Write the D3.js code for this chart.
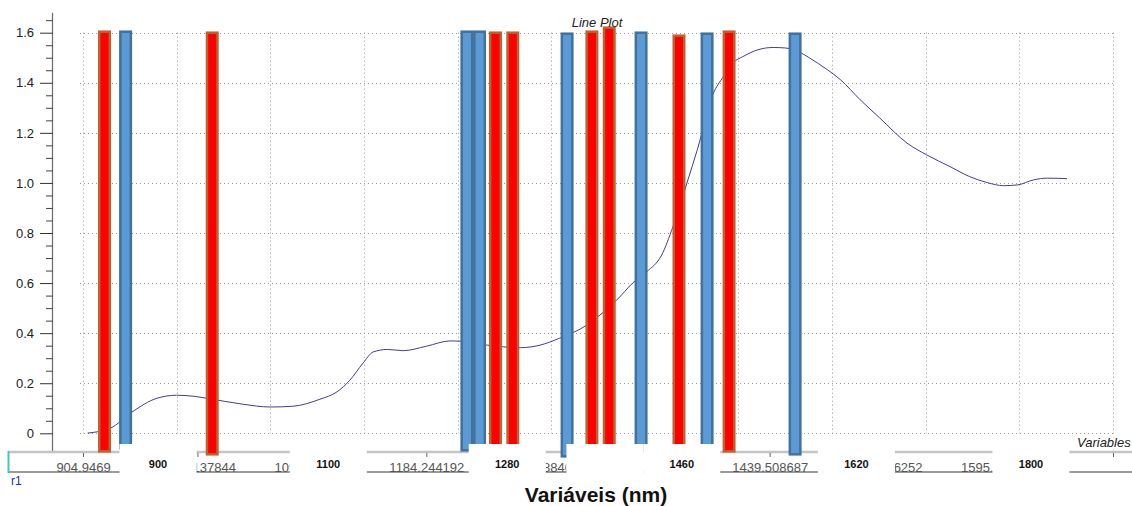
<!DOCTYPE html>
<html>
<head>
<meta charset="utf-8">
<script src="https://cdn.jsdelivr.net/npm/d3@7"></script>
<style>
  html, body { margin: 0; padding: 0; background: #fff; }
  svg { display: block; font-family: Arial, 'Liberation Sans', sans-serif; }
</style>
</head>
<body>
<div id="chart"></div>
<script>
// spectrum (x = wavelength-like position, y = value)
const lineX = [805, 829, 852, 879, 900, 918, 932, 971, 1000, 1024, 1053, 1071, 1085, 1099, 1110, 1125, 1142, 1167, 1192, 1203,
               1232, 1267, 1288, 1309, 1338, 1352, 1370, 1387, 1402, 1418, 1430, 1445, 1456, 1473, 1484, 1494, 1505, 1521, 1537, 1550,
               1566, 1576, 1595, 1609, 1630, 1651, 1680, 1701, 1726, 1747, 1766, 1783, 1798, 1815, 1830, 1851];
const lineY = [0.001, 0.02, 0.084, 0.14, 0.152, 0.148, 0.14, 0.116, 0.105, 0.108, 0.136, 0.165, 0.212, 0.28, 0.325, 0.335, 0.33, 0.348, 0.369, 0.368,
               0.352, 0.342, 0.352, 0.38, 0.432, 0.472, 0.532, 0.6, 0.645, 0.712, 0.825, 1.0, 1.132, 1.356, 1.425, 1.479, 1.505, 1.532, 1.541, 1.539,
               1.521, 1.499, 1.452, 1.412, 1.332, 1.259, 1.159, 1.112, 1.065, 1.025, 1.001, 0.989, 0.992, 1.012, 1.019, 1.017];

// selected variables (red) and (blue)
const redPos    = [823, 938, 1240.5, 1259, 1343.5, 1362, 1436.5, 1490];
const redTop    = [1.604, 1.6, 1.6, 1.6, 1.604, 1.62, 1.588, 1.604];
const redBottom = [-0.072, -0.084, -0.07, -0.07, -0.07, -0.07, -0.07, -0.072];
const bluePos    = [845.5, 1210, 1223.5, 1317, 1396, 1466.5, 1560.5];
const blueTop    = [1.604, 1.604, 1.604, 1.596, 1.6, 1.596, 1.596];
const blueBottom = [-0.06, -0.068, -0.07, -0.092, -0.07, -0.07, -0.084];

// y axis ticks
const yMajor = [0, 0.2, 0.4, 0.6, 0.8, 1.0, 1.2, 1.4, 1.6];
const yMinor = d3.range(0.05, 1.66, 0.05).filter(v => Math.abs(v * 5 - Math.round(v * 5)) > 1e-6);
const xGrid = d3.range(800, 1901, 100);

// variable strip labels (index axis)
const stripLabels = ['904.9469', '1001.137844', '1094.106345', '1184.244192', '1269.388406', '',
                     '1439.508687', '1517.706252', '1595.338912', ''];
// overlaid bold labels (slot positions)
const boldLabels = ['900', '1100', '1280', '', '1460', '1620', '1800'];
const boldSlots  = [0, 0.975, 2, 2.56, 3, 4, 5];

const width = 1132, height = 506;
const font = "Arial, 'Liberation Sans', sans-serif";

const svg = d3.select('#chart').append('svg')
  .attr('width', width)
  .attr('height', height);

const x = d3.scaleLinear().domain([800, 1900]).range([83, 1113]);
const y = d3.scaleLinear().domain([0, 1.6]).range([433.3, 32.7]);
const slot = d3.scaleLinear().domain([0, 5]).range([158, 1031]);
const patchW = 77;
const patches = boldSlots.map(s => [slot(s) - patchW / 2, slot(s) + patchW / 2]).sort((a, b) => a[0] - b[0]);

// grid
const grid = svg.append('g').attr('stroke', '#999').attr('stroke-width', 1).attr('stroke-dasharray', '1,3');
grid.selectAll('.hg').data(yMajor).enter().append('line')
  .attr('x1', 80).attr('x2', 1115)
  .attr('y1', d => Math.round(y(d)) + 0.5).attr('y2', d => Math.round(y(d)) + 0.5);
grid.selectAll('.vg').data(xGrid).enter().append('line')
  .attr('x1', d => Math.round(x(d)) + 0.5).attr('x2', d => Math.round(x(d)) + 0.5)
  .attr('y1', y(1.6)).attr('y2', y(0));

// y axis
svg.append('line')
  .attr('x1', 52.5).attr('x2', 52.5)
  .attr('y1', y(1.68)).attr('y2', y(-0.074))
  .attr('stroke', '#6a6a6a').attr('stroke-width', 1.2);

const yAxis = svg.append('g')
  .attr('transform', 'translate(53,0)')
  .call(d3.axisLeft(y).tickValues(yMajor).tickSize(13).tickPadding(6)
    .tickFormat(d => d === 0 ? '0' : d.toFixed(1)));
yAxis.select('.domain').remove();
yAxis.selectAll('.tick line').attr('stroke', '#333');
yAxis.selectAll('.tick text').attr('font-size', 13).attr('fill', '#222').attr('font-family', font);

const yMinorAxis = svg.append('g')
  .attr('transform', 'translate(53,0)')
  .call(d3.axisLeft(y).tickValues(yMinor).tickSize(7).tickFormat(''));
yMinorAxis.select('.domain').remove();
yMinorAxis.selectAll('.tick line').attr('stroke', '#444');

// spectrum line
const line = d3.line()
  .x(d => x(d[0]))
  .y(d => y(d[1]))
  .curve(d3.curveMonotoneX);

svg.append('path')
  .datum(d3.zip(lineX, lineY))
  .attr('d', line)
  .attr('fill', 'none')
  .attr('stroke', '#40408c')
  .attr('stroke-width', 1);

// bottom variable strip
const strip = svg.append('g');
strip.append('line').attr('x1', 8).attr('x2', 1132).attr('y1', 452).attr('y2', 452)
  .attr('stroke', '#c4c4c4').attr('stroke-width', 2.5);
strip.append('line').attr('x1', 8).attr('x2', 1132).attr('y1', 472).attr('y2', 472)
  .attr('stroke', '#7a7a7a').attr('stroke-width', 1.5);
strip.append('line').attr('x1', 8.5).attr('x2', 8.5).attr('y1', 451).attr('y2', 473)
  .attr('stroke', '#3cc9c9').attr('stroke-width', 2);

// pieces of the strip not covered by the white label patches
const gaps = [];
let from = 8;
patches.forEach(p => { if (p[0] > from) gaps.push([from, p[0]]); from = Math.max(from, p[1]); });
gaps.push([from, width]);

svg.append('defs').append('clipPath').attr('id', 'stripClip')
  .selectAll('rect').data(gaps).enter().append('rect')
  .attr('x', d => d[0]).attr('y', -20)
  .attr('width', d => d[1] - d[0]).attr('height', 50);

const stripScale = d3.scaleLinear().domain([0, 9]).range([83, 1113]);
const stripAxis = strip.append('g')
  .attr('transform', 'translate(0,453)')
  .attr('clip-path', 'url(#stripClip)')
  .call(d3.axisBottom(stripScale).ticks(10).tickSize(4).tickPadding(6)
    .tickFormat(i => stripLabels[i]));
stripAxis.select('.domain').remove();
stripAxis.selectAll('.tick line').attr('stroke', '#666');
stripAxis.selectAll('.tick text').attr('font-size', 13).attr('fill', '#555').attr('font-family', font);

// keep only the characters of each label that show between the patches
stripAxis.selectAll('.tick text').each(function (i) {
  const t = d3.select(this), node = this, n = node.getNumberOfChars();
  if (!n) return;
  const x0 = stripScale(i);
  const shown = [];
  for (let j = 0; j < n; j++) {
    const e = node.getExtentOfChar(j);
    const a = x0 + e.x, b = a + e.width;
    if (gaps.some(g => b > g[0] + 0.5 && a < g[1] - 0.5)) shown.push([j, e.x]);
  }
  if (shown.length === n) return;
  if (!shown.length) { t.text(''); return; }
  const first = shown[0][0], last = shown[shown.length - 1][0];
  t.text(stripLabels[i].slice(first, last + 1))
    .attr('text-anchor', 'start')
    .attr('x', shown[0][1]);
});

// bars
function drawBars(pos, top, bottom, fill, edge) {
  const bw = 10.5;
  svg.append('g').selectAll('rect')
    .data(d3.zip(pos, top, bottom))
    .enter()
    .append('rect')
    .attr('x', d => x(d[0]) - bw / 2)
    .attr('y', d => y(d[1]))
    .attr('width', bw)
    .attr('height', d => y(d[2]) - y(d[1]))
    .style('fill', fill)
    .style('stroke', edge)
    .style('stroke-width', 2.5);
}
drawBars(redPos, redTop, redBottom, '#ff0000', '#bb6230');
drawBars(bluePos, blueTop, blueBottom, '#5b9bd5', '#41719c');

// white label patches with bold labels
const patch = svg.append('g').selectAll('g')
  .data(d3.zip(boldSlots, boldLabels))
  .enter()
  .append('g')
  .attr('transform', d => `translate(${slot(d[0])},0)`);
patch.append('rect')
  .attr('x', -patchW / 2).attr('y', 444)
  .attr('width', patchW).attr('height', 33)
  .style('fill', '#fff');
patch.append('text')
  .attr('y', 468)
  .attr('text-anchor', 'middle')
  .attr('font-size', 11)
  .attr('font-weight', 'bold')
  .attr('fill', '#111')
  .text(d => d[1]);

// texts
svg.append('text')
  .attr('x', 597).attr('y', 27)
  .attr('text-anchor', 'middle')
  .attr('font-size', 13).attr('font-style', 'italic').attr('fill', '#222')
  .text('Line Plot');

svg.append('text')
  .attr('x', 1077).attr('y', 447)
  .attr('font-size', 13).attr('font-style', 'italic').attr('fill', '#222')
  .text('Variables');

svg.append('text')
  .attr('x', 11).attr('y', 485)
  .attr('font-size', 12).attr('fill', '#2a2ab8')
  .text('r1');

svg.append('text')
  .attr('x', 596).attr('y', 502)
  .attr('text-anchor', 'middle')
  .attr('font-size', 21).attr('font-weight', 'bold').attr('fill', '#111')
  .text('Variáveis (nm)');
</script>
</body>
</html>
